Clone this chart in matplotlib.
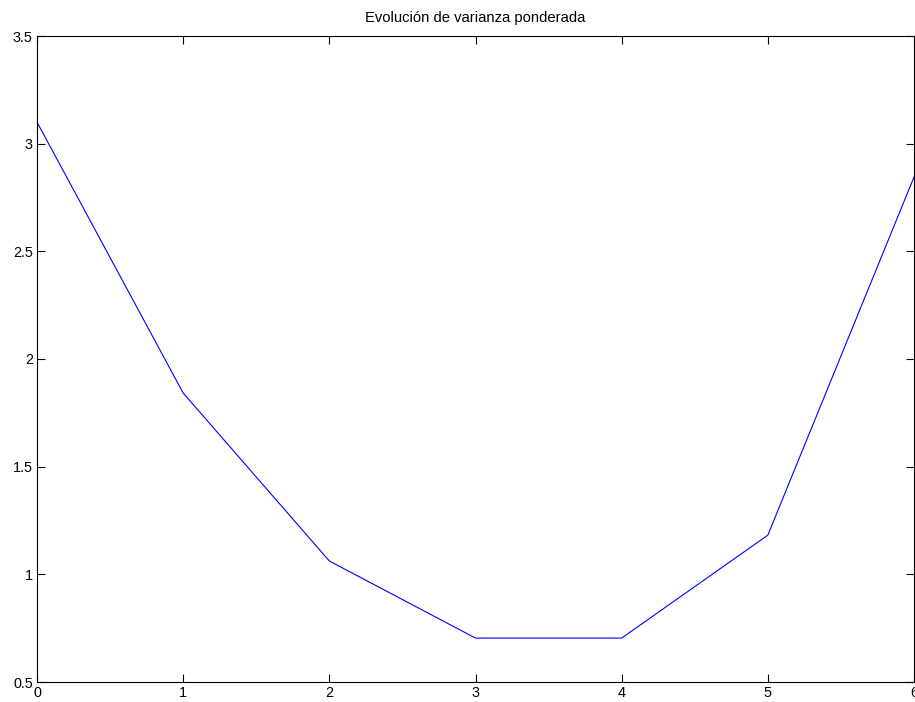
import matplotlib
matplotlib.use("Agg")
import matplotlib.pyplot as plt

x = [0, 1, 2, 3, 4, 5, 6]
y = [3.10, 1.842, 1.062, 0.704, 0.704, 1.182, 2.845]
xticks = [0, 1, 2, 3, 4, 5, 6]
yticks = [0.5, 1, 1.5, 2, 2.5, 3, 3.5]
title = "Evolución de varianza ponderada"

plt.rcParams['font.family'] = ['Liberation Sans', 'DejaVu Sans']
fig = plt.figure(figsize=(9.15, 7.02), dpi=100)
ax = fig.add_axes([37/915, 20/702, 877/915, 646/702])
ax.plot(x, y, color='#0000ff', linewidth=0.8)
ax.set_xlim(0, 6)
ax.set_ylim(0.5, 3.5)
ax.set_xticks(xticks)
ax.set_xticklabels([str(t) for t in xticks])
ax.set_yticks(yticks)
ax.set_yticklabels(['0.5', '1', '1.5', '2', '2.5', '3', '3.5'])
ax.tick_params(direction='in', length=5.8, width=0.8, top=True, right=True,
               labelsize=10.4, pad=3)
for s in ax.spines.values():
    s.set_linewidth(0.8)
ax.set_title(title, fontsize=10.6, pad=10)
fig.savefig("out.png", dpi=100)
